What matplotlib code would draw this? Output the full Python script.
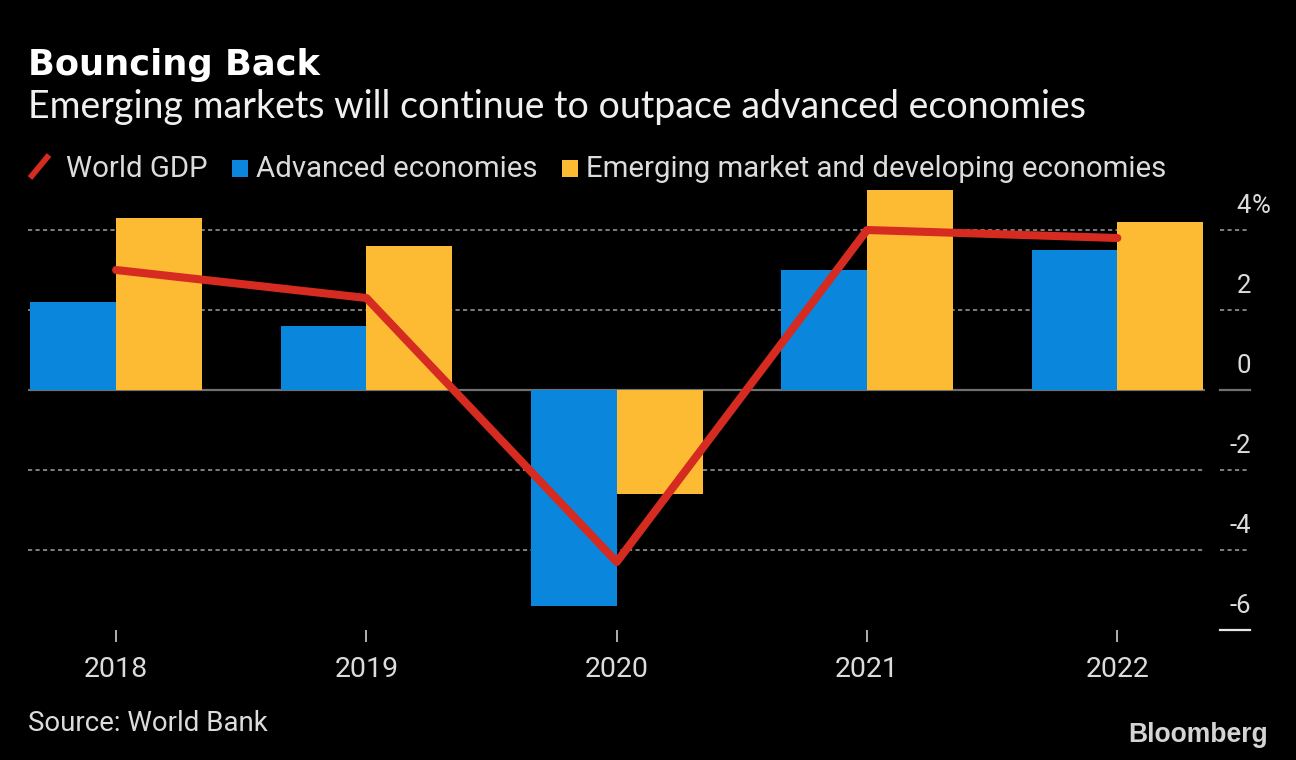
import numpy as np
import matplotlib
matplotlib.use("Agg")
import matplotlib.pyplot as plt
from matplotlib.lines import Line2D
from matplotlib.patches import Rectangle
import matplotlib.transforms as mtransforms

# ---- data ----
years = ["2018", "2019", "2020", "2021", "2022"]
world_gdp = [3.0, 2.3, -4.3, 4.0, 3.8]
advanced = [2.2, 1.6, -5.4, 3.0, 3.5]
emerging = [4.3, 3.6, -2.6, 5.0, 4.2]
y_ticks = [4, 2, 0, -2, -4, -6]
y_tick_labels = ["4", "2", "0", "-2", "-4", "-6"]
legend_labels = ["World GDP", "Advanced economies", "Emerging market and developing economies"]
title = "Bouncing Back"
subtitle = "Emerging markets will continue to outpace advanced economies"
source = "Source: World Bank"

# ---- style ----
BLUE = "#0a86dd"
YELLOW = "#fdba33"
RED = "#d62b20"
TXT = "#dcdcdc"
GRID = "#8a8a8a"
W, H = 1296, 760
SANS = ["Roboto", "DejaVu Sans"]
plt.rcParams["lines.scale_dashes"] = False

fig = plt.figure(figsize=(W / 100, H / 100), dpi=100, facecolor="black")
ax = fig.add_axes([28 / W, 130 / H, 1177 / W, 440 / H], facecolor="black")
renderer = fig.canvas.get_renderer()


def fx(px):
    return px / W


def fy(py):
    return 1 - py / H


def fit(t, target_px):
    bb = t.get_window_extent(renderer)
    t.set_fontsize(t.get_fontsize() * target_px / bb.width)
    return t


x = np.arange(len(years))
bw = 0.343
ax.bar(x - bw / 2, advanced, bw, color=BLUE, zorder=3, linewidth=0)
ax.bar(x + bw / 2, emerging, bw, color=YELLOW, zorder=3, linewidth=0)
ax.plot(x, world_gdp, color=RED, lw=5.8, zorder=4,
        solid_capstyle="round", solid_joinstyle="round")

ax.set_xlim(-0.352, 4.35)
ax.set_ylim(-6, 5)
for s in ax.spines.values():
    s.set_visible(False)
ax.set_yticks([])
ax.set_xticks(x, years)
ax.tick_params(axis="x", length=8.6, width=1.2, color="#cfcfcf",
               labelcolor=TXT, labelsize=20.5, pad=10)
for lab in ax.get_xticklabels():
    lab.set_fontfamily(SANS)

# grid lines and right-side tick marks
bt = mtransforms.blended_transform_factory(ax.transAxes, ax.transData)
x0, x1 = (1220 - 28) / 1177, (1250 - 28) / 1177
for v, lab in zip(y_ticks, y_tick_labels):
    if v == 0:
        kw = dict(color="#707070", lw=1.6, ls="-")
    elif v == y_ticks[-1]:
        kw = dict(color="#e6e6e6", lw=1.6, ls="-")
    else:
        kw = dict(color=GRID, lw=1.3, dashes=(3, 2.4))
    if v != y_ticks[-1]:
        ax.axhline(v, zorder=1, **kw)
    ax.plot([x0, x1], [v, v], transform=bt, clip_on=False, **kw)
    ax.annotate(lab, xy=((1251 - 28) / 1177, v), xycoords=("axes fraction", "data"),
                xytext=(0, 12.5), textcoords="offset points",
                ha="right", va="baseline", color=TXT, fontsize=18.5,
                family=SANS, annotation_clip=False)
ax.annotate("%", xy=((1251 - 28) / 1177, y_ticks[0]), xycoords=("axes fraction", "data"),
            xytext=(0.5, 12.5), textcoords="offset points",
            ha="left", va="baseline", color=TXT, fontsize=18.5,
            family=SANS, annotation_clip=False)

# title / subtitle
t = fig.text(fx(28), fy(75), title, color="white", fontsize=25,
             fontweight="bold", family=["DejaVu Sans"], va="baseline")
fit(t, 292)
t = fig.text(fx(28), fy(118), subtitle, color="#f0f0f0", fontsize=25,
             family=["Lato", "DejaVu Sans"], va="baseline")
fit(t, 1060)

# legend
base = 177
probe = fig.text(0, 0, legend_labels[2], fontsize=20, family=SANS)
fit(probe, 580)
lsize = probe.get_fontsize()
probe.remove()
colors = [RED, BLUE, YELLOW]
icon_x = [30, 232, 562]
text_x = [66, 256, 586]
for i, (lab, c) in enumerate(zip(legend_labels, colors)):
    if i == 0:
        fig.add_artist(Line2D([fx(icon_x[i]), fx(icon_x[i] + 19)], [fy(base + 1), fy(base - 22)],
                              color=c, lw=4.2, transform=fig.transFigure,
                              solid_capstyle="butt"))
    else:
        fig.add_artist(Rectangle((fx(icon_x[i]), fy(base)), 16 / W, 17 / H,
                                 color=c, transform=fig.transFigure, lw=0))
    fig.text(fx(text_x[i]), fy(base), lab, color=TXT, fontsize=lsize,
             family=SANS, va="baseline")

# source and logo
t = fig.text(fx(28), fy(731), source, color=TXT, fontsize=19,
             family=SANS, va="baseline")
fit(t, 239)
t = fig.text(fx(1268), fy(742), "Bloomberg", color="#d4d4d4", fontsize=19,
             fontweight="bold", family=["Liberation Sans", "DejaVu Sans"],
             ha="right", va="baseline")
fit(t, 140)

fig.savefig("out.png", dpi=100, facecolor="black")
